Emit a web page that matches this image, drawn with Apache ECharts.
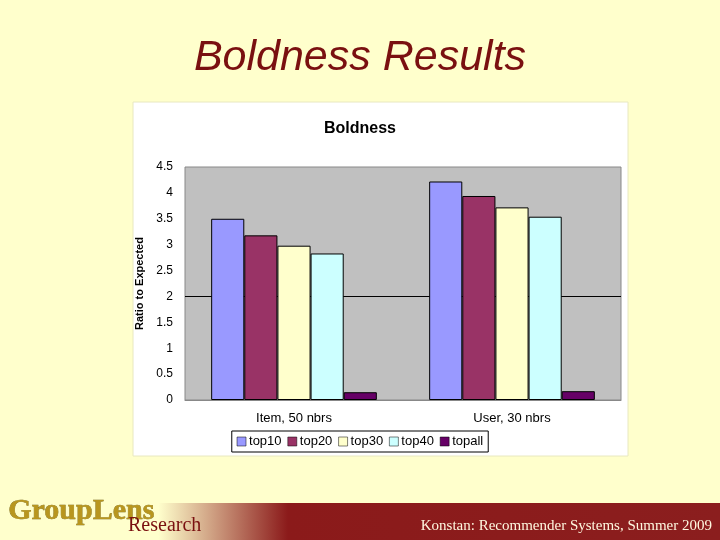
<!DOCTYPE html>
<html lang="en">
<head>
    <meta charset="UTF-8">
    <script src="https://cdn.jsdelivr.net/npm/echarts@6/dist/echarts.min.js"></script>
    <style>
        body { margin: 0; background: #ffffcc; }
        #chart { width: 720px; height: 540px; }
    </style>
    <title>Boldness Results</title>
</head>
<body>
    <div id="chart"></div>
    <script type="text/javascript">
        var categories = ['Item, 50 nbrs', 'User, 30 nbrs'];
        var seriesNames = ['top10', 'top20', 'top30', 'top40', 'topall'];
        var seriesValues = [
            [3.50, 4.22],
            [3.18, 3.94],
            [2.98, 3.72],
            [2.83, 3.54],
            [0.15, 0.17]
        ];
        var colors = ['#9999ff', '#993366', '#ffffcc', '#ccffff', '#660066'];

        var chart = echarts.init(document.getElementById('chart'));
        var series = seriesNames.map(function (name, i) {
            var s = {
                name: name,
                type: 'bar',
                data: seriesValues[i],
                barGap: '0%',
                barCategoryGap: '24%',
                itemStyle: { color: colors[i], borderColor: '#000', borderWidth: 1 }
            };
            if (i === 0) {
                s.markLine = {
                    silent: true, symbol: 'none', label: { show: false }, z: 0,
                    lineStyle: { color: '#000', type: 'solid', width: 1 },
                    data: [{ yAxis: 2 }]
                };
            }
            return s;
        });

        var option = {
            backgroundColor: '#ffffcc',
            animation: false,
            textStyle: { fontFamily: 'Liberation Sans, Arial, sans-serif' },
            graphic: [
                { type: 'rect', shape: { x: 133, y: 102, width: 495, height: 354 },
                  style: { fill: '#fff', stroke: '#e8e8c0' }, z: -10 },
                { type: 'rect', shape: { x: 0, y: 503, width: 720, height: 37 },
                  style: { fill: new echarts.graphic.LinearGradient(0, 0, 1, 0, [
                      { offset: 0, color: '#ffffcc' }, { offset: 0.22, color: '#ffffcc' },
                      { offset: 0.4, color: '#8b1a1a' }, { offset: 1, color: '#8b1e1e' }]) }, z: -10 },
                { type: 'text', left: 'center', top: 37,
                  style: { text: 'Boldness Results', fill: '#7a1010', font: 'italic 43px Liberation Sans, Arial' } },
                { type: 'text', left: 8, top: 496,
                  style: { text: 'GroupLens', fill: '#b8961e', stroke: '#6b5a10', lineWidth: 0.5, font: 'bold 30px Liberation Serif, serif' } },
                { type: 'text', left: 128, top: 516,
                  style: { text: 'Research', fill: '#7a1010', font: '20px Liberation Serif, serif' } },
                { type: 'text', right: 8, top: 519,
                  style: { text: 'Konstan: Recommender Systems, Summer 2009', fill: '#fff8e0', font: '15px Liberation Serif, serif' } }
            ],
            title: {
                text: 'Boldness', left: 'center', top: 116,
                textStyle: { fontSize: 16, fontWeight: 'bold', color: '#000' }
            },
            legend: {
                bottom: 88, left: 'center', icon: 'rect',
                itemWidth: 9, itemHeight: 9, itemGap: 6,
                borderColor: '#000', borderWidth: 1, padding: [4, 5],
                textStyle: { fontSize: 13, color: '#000', padding: [0, 0, 0, -2] },
                data: seriesNames.map(function (n, i) {
                    return { name: n, itemStyle: { color: colors[i], borderColor: '#000', borderWidth: 0.5 } };
                })
            },
            grid: {
                left: 185, right: 99, top: 167, bottom: 140,
                show: true, backgroundColor: '#c0c0c0', borderColor: '#888', borderWidth: 1
            },
            xAxis: {
                type: 'category', data: categories,
                axisTick: { show: false },
                axisLine: { lineStyle: { color: '#888' } },
                axisLabel: { color: '#000', fontSize: 13, margin: 12 }
            },
            yAxis: {
                type: 'value', min: 0, max: 4.5, interval: 0.5,
                name: 'Ratio to Expected', nameLocation: 'middle', nameGap: 40,
                nameTextStyle: { fontWeight: 'bold', fontSize: 11, color: '#000' },
                splitLine: { show: false },
                axisLine: { show: false }, axisTick: { show: false },
                axisLabel: { color: '#000', fontSize: 12, margin: 12 }
            },
            series: series
        };
        chart.setOption(option);
    </script>
</body>
</html>
